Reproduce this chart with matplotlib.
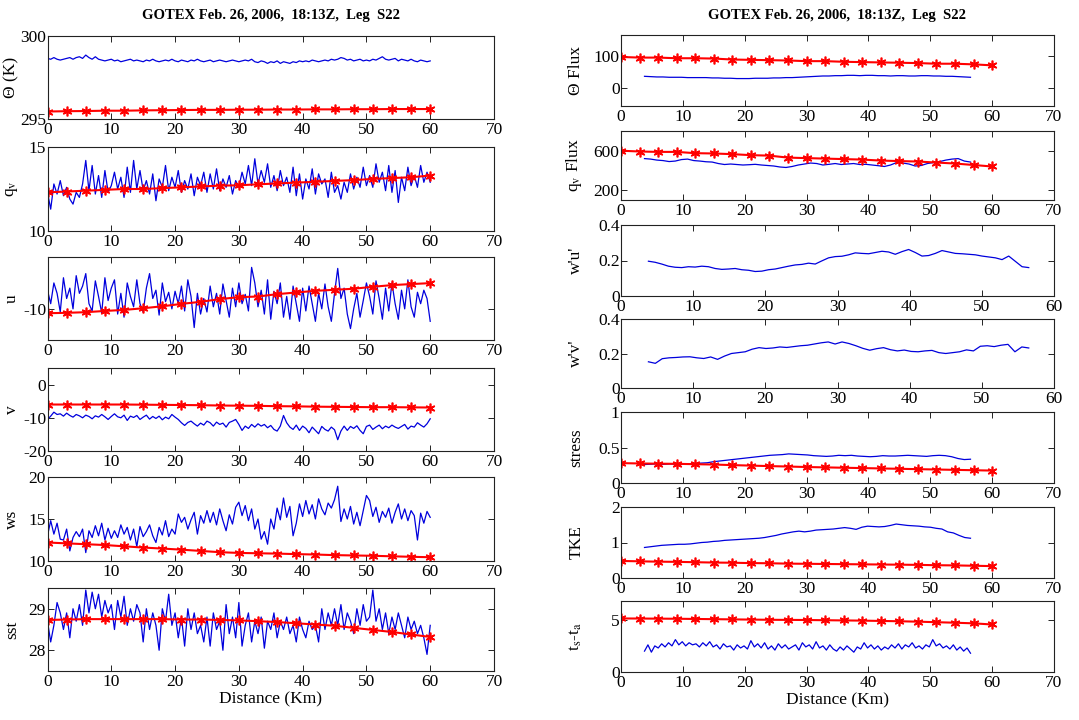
import numpy as np
import matplotlib
matplotlib.use("Agg")
import matplotlib.pyplot as plt

plt.rcParams['font.family'] = ['Liberation Serif', 'DejaVu Serif']
plt.rcParams['mathtext.fontset'] = 'stix'

TITLE = "GOTEX Feb. 26, 2006,  18:13Z,  Leg  S22"
XLABEL = "Distance (Km)"

# Leg mean (red) sampled every 3 km
red_km = np.arange(0, 61, 3)

# ---------------- left column: flight-level series ----------------
theta_blue = [298.65, 298.6, 298.7, 298.6, 298.55, 298.6, 298.65, 298.7, 298.6, 298.7, 298.75,
              298.65, 298.85, 298.7, 298.6, 298.75, 298.6, 298.55, 298.5, 298.55, 298.6,
              298.5, 298.55, 298.45, 298.5, 298.55, 298.6, 298.5, 298.55, 298.5, 298.45,
              298.55, 298.5, 298.6, 298.5, 298.45, 298.5, 298.55, 298.5, 298.6, 298.5,
              298.45, 298.55, 298.5, 298.45, 298.55, 298.5, 298.6, 298.5, 298.45, 298.5,
              298.55, 298.45, 298.5, 298.55, 298.5, 298.45, 298.5, 298.55, 298.5, 298.45,
              298.5, 298.55, 298.5, 298.6, 298.45, 298.4, 298.5, 298.45, 298.35, 298.45,
              298.4, 298.5, 298.35, 298.45, 298.4, 298.35, 298.45, 298.4, 298.5, 298.45,
              298.5, 298.45, 298.55, 298.5, 298.45, 298.5, 298.55, 298.5, 298.6, 298.55,
              298.6, 298.7, 298.65, 298.55, 298.6, 298.5, 298.55, 298.6, 298.5, 298.55,
              298.5, 298.6, 298.55, 298.65, 298.75, 298.6, 298.55, 298.6, 298.65, 298.5,
              298.6, 298.55, 298.5, 298.6, 298.5, 298.45, 298.55, 298.5, 298.45, 298.5]
theta_red = [295.45, 295.47, 295.48, 295.5, 295.5, 295.52, 295.53, 295.54, 295.55, 295.55, 295.56,
             295.56, 295.57, 295.57, 295.58, 295.58, 295.59, 295.59, 295.6, 295.6, 295.6]

qv_blue = [12.3, 11.3, 12.8, 12.2, 13.0, 12.1, 12.6, 11.9, 11.6, 12.3, 12.0,
           12.8, 14.2, 12.4, 13.9, 12.2, 13.3, 12.0, 13.6, 12.3, 12.7,
           13.5, 12.5, 13.2, 12.0, 13.8, 12.3, 14.2, 12.5, 13.6, 12.4,
           13.0, 12.2, 13.4, 11.8, 13.1, 12.6, 13.9, 12.4, 13.2, 12.6,
           13.6, 12.3, 13.0, 12.5, 13.4, 12.1, 13.2, 12.7, 13.5, 12.3,
           13.4, 12.5, 13.7, 12.4, 13.1, 12.6, 13.3, 12.2, 13.0, 12.6,
           13.5, 12.8, 13.9, 12.7, 14.3, 12.8, 13.6, 12.9, 14.0, 12.6,
           13.3, 12.4, 13.6, 12.7, 13.2, 12.3, 13.8, 12.1, 13.4, 11.9,
           13.1, 12.5, 13.7, 12.2, 13.4, 12.8, 13.1, 12.0, 13.5, 12.3,
           12.7, 11.9, 12.9, 12.3, 13.4, 12.5, 13.2, 12.6, 13.8, 12.7,
           13.3, 12.6, 14.0, 12.9, 13.5, 12.4, 13.9, 12.3, 13.6, 11.7,
           13.2, 12.4, 13.8, 12.7, 13.3, 12.6, 13.9, 12.9, 13.5, 12.9]
qv_red = [12.3, 12.35, 12.4, 12.45, 12.5, 12.5, 12.55, 12.6, 12.65, 12.7, 12.72,
          12.78, 12.83, 12.88, 12.93, 12.98, 13.03, 13.1, 13.15, 13.2, 13.3]

u_blue = [-8.2, -9.5, -7.5, -8.5, -10.3, -7.0, -9.0, -8.0, -10.0, -6.8, -8.5,
          -7.8, -6.6, -9.5, -10.2, -7.3, -8.8, -10.4, -7.0, -9.2, -8.0,
          -7.2, -10.5, -8.5, -10.8, -7.5, -8.8, -9.8, -7.2, -9.5, -10.3,
          -8.0, -6.6, -9.0, -8.2, -10.6, -7.5, -9.3, -8.4, -10.0, -8.3,
          -9.5, -7.8, -10.2, -7.2, -8.8, -11.8, -8.5, -10.5, -9.0, -10.3,
          -7.8, -9.8, -8.5, -10.5, -7.6, -9.2, -10.8, -8.0, -9.8, -7.5,
          -9.5, -8.6, -10.2, -6.0, -7.5, -9.8, -8.2, -10.5, -7.2, -11.0,
          -8.3, -9.5, -7.5, -10.8, -8.8, -11.0, -7.8, -9.5, -11.2, -8.0,
          -10.2, -7.8, -9.5, -11.2, -8.5, -10.0, -7.6, -9.8, -11.2, -8.5,
          -6.1, -9.0, -8.0, -10.5, -11.9, -10.0, -8.5, -10.8, -9.2, -7.5,
          -8.8, -10.5, -7.3, -9.0, -11.0, -8.0, -10.2, -7.5, -9.5, -11.0,
          -8.2, -10.0, -7.2, -9.8, -10.8, -8.4, -9.5, -8.2, -9.0, -11.2]
u_red = [-10.42, -10.38, -10.32, -10.2, -10.1, -9.94, -9.75, -9.52, -9.32, -9.06, -8.87,
         -8.81, -8.58, -8.42, -8.26, -8.16, -8.06, -7.87, -7.71, -7.61, -7.52]

v_blue = [-10.5, -9.5, -8.3, -9.0, -8.8, -9.5, -8.6, -9.3, -9.8, -9.0, -9.4,
          -10.0, -9.2, -9.6, -10.3, -9.4, -9.8, -9.0, -9.7, -10.5, -9.6,
          -8.8, -9.7, -10.0, -9.2, -10.8, -9.5, -9.9, -9.3, -10.5, -9.8,
          -9.2, -10.4, -9.6, -10.2, -9.5, -10.6, -9.8, -10.3, -9.0, -9.8,
          -10.5, -11.5, -12.3, -11.4, -11.0, -11.8, -12.5, -11.6, -12.2, -11.0,
          -11.5, -12.5, -11.3, -12.0, -11.6, -12.8, -11.4, -11.0, -10.5, -12.0,
          -13.8, -12.5, -13.2, -12.0, -12.8, -11.8, -12.5, -12.0, -13.0, -12.3,
          -13.5, -14.0, -12.5, -9.3, -11.5, -12.8, -13.5, -12.2, -13.8, -12.5,
          -13.2, -14.5, -12.8, -13.8, -14.8, -12.6, -13.5, -14.0, -12.8, -13.6,
          -16.6, -14.0, -12.5, -13.8, -12.6, -13.2, -12.4, -13.8, -14.8, -12.6,
          -12.2, -13.5, -12.8, -12.2, -13.3, -12.5, -13.0, -12.2, -12.8, -13.2,
          -12.6, -12.0, -13.4, -12.5, -12.8, -11.5, -12.2, -12.8, -11.8, -10.3]
v_red = [-6.0, -6.0, -6.0, -6.0, -6.0, -6.05, -6.1, -6.15, -6.2, -6.3, -6.35,
         -6.4, -6.5, -6.55, -6.65, -6.7, -6.75, -6.8, -6.8, -6.85, -6.9]

ws_blue = [13.0, 14.8, 13.2, 14.5, 12.6, 12.5, 13.8, 11.2, 12.8, 13.5, 12.9,
           13.8, 11.0, 13.6, 12.8, 14.2, 13.0, 14.5, 12.5, 13.9, 12.7,
           13.6, 12.8, 14.3, 13.2, 14.0, 12.5, 13.8, 11.7, 14.1, 12.9,
           13.5, 14.3, 13.0, 12.2, 14.0, 13.1, 14.8, 12.9, 13.8, 13.2,
           15.6, 14.6, 15.2, 13.8, 14.9, 15.8, 13.2, 15.4, 14.5, 16.0,
           14.6, 15.8, 14.3, 16.2, 14.8, 13.6, 15.5, 14.4, 16.4, 17.0,
           15.4, 16.6, 14.8, 16.2, 13.8, 15.0, 12.6, 13.5, 12.0, 15.0,
           13.8, 16.3, 14.9, 17.5, 15.2, 16.5, 13.0, 14.5, 16.8, 15.3,
           17.2, 15.6, 16.7, 15.0, 17.4, 16.2, 15.5, 16.9, 16.3, 17.3,
           18.9, 14.7, 16.2, 15.0, 16.5, 14.4, 15.8, 14.2, 16.0, 17.8,
           17.2, 15.3, 16.4, 14.6, 15.9, 15.2, 16.3, 14.5, 15.8, 16.8,
           15.0, 16.2, 14.8, 16.0, 15.4, 12.5, 15.7, 14.5, 15.9, 15.2]
ws_red = [12.2, 12.1, 12.0, 11.9, 11.75, 11.6, 11.48, 11.35, 11.2, 11.05, 10.96,
          10.92, 10.88, 10.82, 10.77, 10.7, 10.66, 10.62, 10.56, 10.5, 10.45]

sst_blue = [28.7, 28.2, 28.6, 29.15, 28.9, 28.5, 28.9, 28.3, 29.0, 28.7, 29.1,
            28.6, 29.45, 28.9, 29.4, 29.0, 29.35, 28.8, 29.2, 28.9, 29.1,
            28.5, 29.2, 28.8, 29.3, 28.6, 29.0, 28.7, 29.1, 28.9, 28.2,
            29.0, 28.5, 28.9, 28.6, 28.0, 29.0, 28.7, 29.35, 28.6, 28.9,
            28.3, 28.8, 28.1, 29.0, 28.5, 28.9, 28.4, 28.6, 28.2, 28.8,
            28.1, 28.9, 28.5, 28.7, 28.0, 29.1, 28.4, 28.8, 28.3, 29.15,
            28.1, 28.6, 28.9, 28.2, 28.7, 28.4, 28.8, 28.05, 28.7, 28.5,
            28.9, 28.3, 28.7, 28.5, 28.8, 28.4, 28.6, 28.2, 28.8, 28.5,
            28.3, 28.7, 28.5, 28.6, 28.2, 29.0, 28.5, 28.9, 28.6, 29.0,
            28.6, 29.1, 28.5, 28.9, 28.7, 28.4, 29.0, 28.6, 29.1, 28.7,
            28.8, 29.45, 28.7, 29.0, 28.5, 28.9, 28.4, 28.8, 28.5, 28.9,
            28.6, 28.3, 28.8, 28.5, 28.7, 28.4, 28.6, 28.3, 27.9, 28.6]
sst_red = [28.73, 28.74, 28.75, 28.75, 28.75, 28.75, 28.75, 28.74, 28.74, 28.73, 28.72,
           28.7, 28.68, 28.65, 28.62, 28.59, 28.54, 28.49, 28.44, 28.38, 28.32]

# ---------------- right column: running flux estimates ----------------
thflux_blue = [37, 36, 35, 35, 34, 34, 34, 33, 33, 33, 33, 32, 32, 31, 31, 30, 30, 30,
               31, 31, 31, 32, 32, 33, 33, 34, 35, 36, 37, 38, 38, 39, 39, 40, 40, 39,
               40, 40, 39, 39, 38, 39, 39, 38, 38, 39, 39, 38, 38, 37, 37, 36, 35, 34]
thflux_red = [97, 95, 95, 93, 93, 92, 89, 88, 87, 86, 84, 84, 82, 81, 80, 79, 78, 76, 76, 74, 71]

qflux_blue = [520, 515, 505, 500, 490, 495, 510, 515, 500, 495, 488, 485, 470, 460,
              465, 460, 455, 458, 462, 455, 450, 445, 435, 430, 440, 455, 465, 475,
              470, 455, 462, 470, 460, 465, 470, 460, 462, 455, 448, 440, 455, 480,
              475, 465, 445, 450, 470, 480, 490, 505, 515, 520, 495, 485]
qflux_red = [600, 592, 588, 588, 575, 572, 565, 555, 550, 530, 525,
             520, 515, 510, 500, 495, 490, 480, 470, 455, 440]

wu_blue = [0.196, 0.19, 0.18, 0.168, 0.162, 0.16, 0.165, 0.163, 0.168, 0.165, 0.155,
           0.15, 0.152, 0.155, 0.148, 0.145, 0.138, 0.14, 0.148, 0.152, 0.16, 0.168,
           0.175, 0.178, 0.185, 0.18, 0.198, 0.215, 0.222, 0.224, 0.232, 0.243, 0.24,
           0.238, 0.245, 0.252, 0.248, 0.235, 0.25, 0.262, 0.245, 0.225, 0.228, 0.24,
           0.256, 0.248, 0.24, 0.238, 0.235, 0.232, 0.225, 0.22, 0.215, 0.205, 0.225,
           0.195, 0.165, 0.16]

wv_blue = [0.152, 0.143, 0.17, 0.175, 0.177, 0.18, 0.181, 0.175, 0.171, 0.18, 0.166,
           0.185, 0.2, 0.205, 0.21, 0.225, 0.234, 0.229, 0.232, 0.238, 0.235, 0.24,
           0.245, 0.248, 0.255, 0.262, 0.267, 0.255, 0.267, 0.258, 0.245, 0.23, 0.219,
           0.228, 0.234, 0.222, 0.215, 0.22, 0.212, 0.21, 0.215, 0.218, 0.205, 0.2,
           0.205, 0.21, 0.221, 0.215, 0.242, 0.245, 0.24, 0.248, 0.253, 0.21, 0.238, 0.232]

stress_blue = [0.26, 0.265, 0.27, 0.262, 0.27, 0.265, 0.262, 0.268, 0.275, 0.28, 0.285,
               0.3, 0.31, 0.32, 0.33, 0.34, 0.35, 0.36, 0.37, 0.38, 0.39, 0.395, 0.4,
               0.41, 0.405, 0.4, 0.395, 0.385, 0.38, 0.375, 0.38, 0.39, 0.385, 0.39,
               0.38, 0.375, 0.37, 0.375, 0.385, 0.38, 0.38, 0.385, 0.39, 0.385, 0.38,
               0.375, 0.385, 0.39, 0.385, 0.37, 0.345, 0.33, 0.335]
stress_red = [0.28, 0.275, 0.272, 0.27, 0.265, 0.26, 0.252, 0.245, 0.238, 0.232, 0.225,
              0.22, 0.215, 0.21, 0.205, 0.2, 0.195, 0.19, 0.185, 0.18, 0.175]

tke_blue = [0.86, 0.88, 0.9, 0.92, 0.93, 0.94, 0.95, 0.95, 0.96, 0.98, 1.0, 1.01, 1.03,
            1.04, 1.06, 1.07, 1.08, 1.09, 1.1, 1.11, 1.12, 1.14, 1.17, 1.2, 1.24, 1.27,
            1.3, 1.32, 1.3, 1.32, 1.35, 1.36, 1.37, 1.38, 1.4, 1.42, 1.4, 1.37, 1.43,
            1.46, 1.45, 1.44, 1.45, 1.48, 1.52, 1.5, 1.48, 1.47, 1.46, 1.44, 1.43, 1.4,
            1.38, 1.3, 1.27, 1.2, 1.14, 1.12]
tke_red = [0.48, 0.47, 0.46, 0.455, 0.445, 0.435, 0.43, 0.42, 0.415, 0.405, 0.4,
           0.395, 0.39, 0.385, 0.38, 0.375, 0.37, 0.36, 0.355, 0.345, 0.335]

dt_blue = [2.0, 2.6, 1.9, 2.5, 2.3, 2.7, 2.4, 2.8, 2.5, 3.1, 2.6, 2.9, 2.5, 2.8, 2.6, 2.7,
           2.4, 2.8, 2.5, 2.9, 2.4, 2.6, 2.2, 2.7, 2.4, 2.5, 2.1, 2.6, 2.3, 2.5, 2.2, 3.0,
           2.4, 2.7, 2.3, 2.8, 2.2, 2.5, 2.1, 2.7, 2.3, 2.6, 2.2, 2.4, 2.6, 2.1, 2.8, 2.4,
           2.6, 2.2, 2.9, 2.3, 2.5, 2.1, 2.6, 2.2, 2.0, 2.4, 2.1, 2.5, 2.2, 1.9, 2.4, 2.2,
           2.8, 2.3, 2.6, 2.2, 2.5, 2.1, 2.4, 2.2, 2.6, 2.3, 2.7, 2.2, 2.6, 2.4, 2.8, 2.3,
           2.5, 2.2, 2.6, 2.4, 3.1, 2.5, 2.7, 2.3, 2.5, 2.2, 2.6, 2.1, 2.4, 2.0, 2.3, 1.8]
dt_red = [5.13, 5.12, 5.11, 5.1, 5.08, 5.06, 5.04, 5.02, 5.0, 4.99, 4.98,
          4.96, 4.94, 4.92, 4.89, 4.86, 4.82, 4.77, 4.72, 4.66, 4.55]

FIG_W, FIG_H = 1079, 720
BLUE = '#0000dd'
RED = '#ff0000'
ASTERISK = (6, 2, 0)


def make_axes(fig, x0, x1, y_top, y_bot):
    return fig.add_axes([x0 / FIG_W, 1 - y_bot / FIG_H,
                         (x1 - x0) / FIG_W, (y_bot - y_top) / FIG_H])


def style(ax, xlim, xticks, ylim, yticks, ylabel):
    ax.set_xlim(*xlim)
    ax.set_ylim(*ylim)
    ax.set_xticks(xticks)
    ax.set_yticks(yticks)
    ax.yaxis.set_major_formatter(matplotlib.ticker.FuncFormatter(
        lambda v, p: '%g' % v))
    ax.tick_params(direction='in', top=True, right=True, length=4,
                   width=0.6, labelsize=12.5, pad=1, colors='black')
    ax.tick_params(axis='x', pad=2)
    for s in ax.spines.values():
        s.set_linewidth(0.8)
        s.set_color('#222222')
    ax.set_ylabel(ylabel, fontsize=12.5, labelpad=1)


def blue_line(ax, x0, x1, vals):
    ax.plot(np.linspace(x0, x1, len(vals)), vals, color=BLUE, lw=0.9)


def red_line(ax, vals):
    ax.plot(red_km, vals, color=RED, lw=1.5, marker=ASTERISK, ms=7, mew=1.2,
            mec=RED, mfc=RED)


fig = plt.figure(figsize=(FIG_W / 100, FIG_H / 100), dpi=100)

LX0, LX1 = 47.5, 494
left_rows = [(36, 119), (147, 231), (257, 340), (368, 451), (477, 561), (588, 671)]
left_specs = [
    (theta_blue, theta_red, (295, 300), [295, 300], 'Θ (K)'),
    (qv_blue, qv_red, (10, 15), [10, 15], r'q$_{\rm v}$'),
    (u_blue, u_red, (-13, -5), [-10], 'u'),
    (v_blue, v_red, (-20, 5), [-20, -10, 0], 'v'),
    (ws_blue, ws_red, (10, 20), [10, 15, 20], 'ws'),
    (sst_blue, sst_red, (27.5, 29.5), [28, 29], 'sst'),
]
left_axes = []
for (top, bot), (b, r, yl, yt, lab) in zip(left_rows, left_specs):
    ax = make_axes(fig, LX0, LX1, top, bot)
    blue_line(ax, 0, 60, b)
    red_line(ax, r)
    style(ax, (0, 70), range(0, 71, 10), yl, yt, lab)
    left_axes.append(ax)
for ax in left_axes:
    ax.yaxis.set_label_coords(-0.062, 0.5)
left_axes[-1].set_xlabel(XLABEL, fontsize=12.5, labelpad=1)

RX0, RX1 = 621, 1054
right_rows = [(35, 106), (131, 200), (225, 296), (319, 388), (412, 483), (507, 578), (601, 672)]
B0, B1 = 3.8, 56.5
right_specs = [
    (thflux_blue, thflux_red, (-55, 165), [0, 100], 'Θ Flux', 70),
    (qflux_blue, qflux_red, (100, 800), [200, 600], r'q$_{\rm v}$ Flux', 70),
    (wu_blue, None, (0, 0.4), [0, 0.2, 0.4], "w'u'", 60),
    (wv_blue, None, (0, 0.4), [0, 0.2, 0.4], "w'v'", 60),
    (stress_blue, stress_red, (0, 1), [0, 0.5, 1], 'stress', 70),
    (tke_blue, tke_red, (0, 2), [0, 1, 2], 'TKE', 70),
    (dt_blue, dt_red, (0, 6.8), [0, 5], r't$_{\rm s}$-t$_{\rm a}$', 70),
]
right_axes = []
for (top, bot), (b, r, yl, yt, lab, xmax) in zip(right_rows, right_specs):
    ax = make_axes(fig, RX0, RX1, top, bot)
    blue_line(ax, B0, B1, b)
    if r is not None:
        red_line(ax, r)
    style(ax, (0, xmax), range(0, xmax + 1, 10), yl, yt, lab)
    right_axes.append(ax)
for ax in right_axes:
    ax.yaxis.set_label_coords(-0.085, 0.5)
right_axes[-1].set_xlabel(XLABEL, fontsize=12.5, labelpad=1)

fig.text((LX0 + LX1) / 2 / FIG_W, 1 - 15 / FIG_H, TITLE, ha='center', va='center',
         fontsize=10.5, fontweight='bold')
fig.text((RX0 + RX1) / 2 / FIG_W, 1 - 15 / FIG_H, TITLE, ha='center', va='center',
         fontsize=10.5, fontweight='bold')

fig.savefig('out.png', dpi=100)
